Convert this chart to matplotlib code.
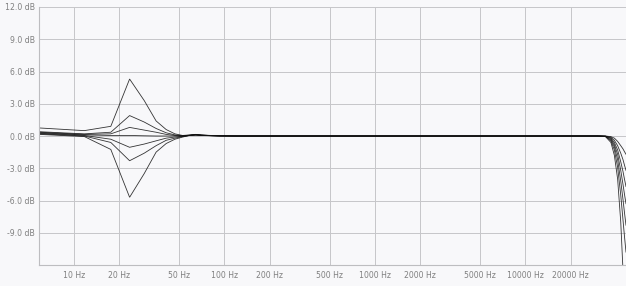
import numpy as np
import matplotlib
matplotlib.use("Agg")
import matplotlib.pyplot as plt

# Frequency points (Hz): FFT bins at low end, sparse mid, dense at the top rolloff
freqs = [5.86, 11.72, 17.58, 23.44, 29.30, 35.16, 41.02, 46.88, 52.73, 58.59,
         64.45, 70.31, 82.03, 93.75, 120, 200, 1000, 10000, 30000,
         34000, 37000, 39000, 41000, 43000, 44500, 45500, 46600]

curve_a = [0.75, 0.50, 0.90, 5.30, 3.30, 1.40, 0.60, 0.20, 0.05, 0.10,
           0.15, 0.10, 0.05, 0.02, 0.0, 0.0, 0.0, 0.0, 0.0,
           -0.05, -0.6, -1.8, -4.0, -8.0, -12.5, -15.0, -18.0]
curve_b = [0.40, 0.20, 0.35, 1.90, 1.30, 0.70, 0.30, 0.10, 0.02, 0.08,
           0.12, 0.08, 0.04, 0.02, 0.0, 0.0, 0.0, 0.0, 0.0,
           -0.04, -0.45, -1.3, -2.9, -5.5, -7.8, -9.3, -10.8]
curve_c = [0.35, 0.15, 0.20, 0.80, 0.55, 0.35, 0.15, 0.05, 0.0, 0.06,
           0.10, 0.06, 0.03, 0.01, 0.0, 0.0, 0.0, 0.0, 0.0,
           -0.03, -0.35, -1.0, -2.2, -4.2, -5.9, -7.1, -8.3]
curve_d = [0.30, 0.10, 0.05, 0.05, 0.02, 0.0, 0.0, 0.0, 0.0, 0.05,
           0.08, 0.05, 0.02, 0.01, 0.0, 0.0, 0.0, 0.0, 0.0,
           -0.02, -0.25, -0.8, -1.7, -3.2, -4.5, -5.4, -6.3]
curve_e = [0.25, 0.05, -0.30, -1.05, -0.75, -0.45, -0.20, -0.10, -0.02, 0.05,
           0.10, 0.06, 0.03, 0.01, 0.0, 0.0, 0.0, 0.0, 0.0,
           -0.02, -0.18, -0.6, -1.3, -2.4, -3.3, -4.0, -4.7]
curve_f = [0.20, 0.0, -0.60, -2.30, -1.60, -0.90, -0.40, -0.20, -0.05, 0.05,
           0.12, 0.07, 0.03, 0.01, 0.0, 0.0, 0.0, 0.0, 0.0,
           -0.01, -0.12, -0.4, -0.9, -1.6, -2.2, -2.7, -3.2]
curve_g = [0.15, -0.05, -1.25, -5.70, -3.50, -1.50, -0.70, -0.30, -0.10, 0.05,
           0.15, 0.08, 0.04, 0.01, 0.0, 0.0, 0.0, 0.0, 0.0,
           0.0, -0.06, -0.2, -0.5, -0.9, -1.2, -1.45, -1.7]

curves = [curve_a, curve_b, curve_c, curve_d, curve_e, curve_f, curve_g]

x_ticks = [10, 20, 50, 100, 200, 500, 1000, 2000, 5000, 10000, 20000]
x_labels = ["10 Hz", "20 Hz", "50 Hz", "100 Hz", "200 Hz", "500 Hz", "1000 Hz",
            "2000 Hz", "5000 Hz", "10000 Hz", "20000 Hz"]
y_ticks = [12, 9, 6, 3, 0, -3, -6, -9]
y_labels = ["12.0 dB", "9.0 dB", "6.0 dB", "3.0 dB", "0.0 dB", "-3.0 dB",
            "-6.0 dB", "-9.0 dB"]

bg = "#f8f8fa"
W, H = 626, 286
fig = plt.figure(figsize=(W / 100, H / 100), dpi=100, facecolor=bg)
ax = fig.add_axes([39 / W, 21 / H, (626 - 39) / W, (265 - 7) / H], facecolor=bg)

for c in curves:
    ax.plot(freqs, c, color="#111111", lw=0.6, alpha=0.85, solid_joinstyle="miter")

ax.set_xscale("log")
ax.set_xlim(5.86, 46600)
ax.set_ylim(-12, 12)
ax.set_xticks(x_ticks)
ax.set_xticklabels(x_labels)
ax.set_yticks(y_ticks)
ax.set_yticklabels(y_labels)
ax.xaxis.set_minor_locator(matplotlib.ticker.NullLocator())
ax.grid(True, color="#c6c6c9", lw=0.7)
ax.set_axisbelow(True)
ax.tick_params(length=0, labelsize=5.6, labelcolor="#808080")
ax.tick_params(axis="x", pad=4.5)
ax.tick_params(axis="y", pad=3)
for s in ["top", "right"]:
    ax.spines[s].set_visible(False)
for s in ["left", "bottom"]:
    ax.spines[s].set_color("#bdbdc0")
    ax.spines[s].set_linewidth(0.8)

fig.savefig("out.png", dpi=100, facecolor=bg)
